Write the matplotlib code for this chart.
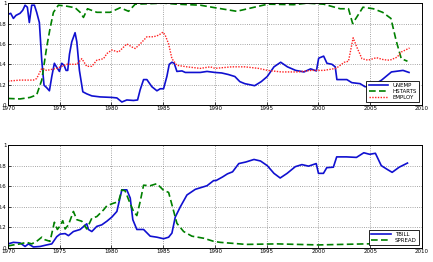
import matplotlib
matplotlib.use("Agg")
import matplotlib.pyplot as plt

# Top panel series (normalised)
unemp_years = [1970.0, 1970.26, 1970.52, 1970.77, 1971.16, 1971.42, 1971.65, 1971.87, 1972.06, 1972.29,
               1972.55, 1972.77, 1973.03, 1973.26, 1973.48, 1973.74, 1974.0, 1974.23, 1974.48, 1974.71,
               1974.97, 1975.19, 1975.42, 1975.61, 1975.77, 1975.94, 1976.16, 1976.48, 1976.65, 1976.9,
               1977.23, 1977.61, 1978.1, 1978.9, 1980.03, 1980.52, 1981.0, 1981.48, 1982.13, 1982.52,
               1982.77, 1983.1, 1983.42, 1983.9, 1984.39, 1984.71, 1985.03, 1985.35, 1985.58, 1985.84,
               1986.06, 1986.32, 1986.81, 1987.13, 1988.58, 1989.23, 1990.0, 1990.64, 1991.28, 1991.92,
               1992.4, 1992.88, 1993.83, 1994.47, 1995.05, 1995.7, 1996.35, 1997.0, 1997.8, 1998.6,
               1999.24, 1999.8, 2000.02, 2000.5, 2000.82, 2001.3, 2001.62, 2001.78, 2002.74, 2003.22,
               2004.02, 2004.5, 2005.14, 2006.1, 2007.05, 2008.17, 2008.75]
unemp = [0.89, 0.90, 0.85, 0.88, 0.90, 0.93, 0.98, 0.96, 0.81, 0.98,
         0.98, 0.91, 0.81, 0.44, 0.195, 0.17, 0.14, 0.28, 0.41, 0.37,
         0.33, 0.41, 0.39, 0.34, 0.34, 0.50, 0.62, 0.71, 0.62, 0.34,
         0.13, 0.11, 0.09, 0.08, 0.075, 0.07, 0.03, 0.05, 0.045, 0.05,
         0.15, 0.25, 0.25, 0.18, 0.14, 0.16, 0.16, 0.28, 0.40, 0.42,
         0.41, 0.33, 0.335, 0.32, 0.32, 0.33, 0.32, 0.315, 0.30, 0.28,
         0.23, 0.21, 0.19, 0.23, 0.28, 0.375, 0.42, 0.375, 0.34, 0.325,
         0.355, 0.335, 0.46, 0.48, 0.41, 0.40, 0.375, 0.25, 0.25, 0.22,
         0.21, 0.18, 0.185, 0.245, 0.325, 0.34, 0.32]

hstarts_years = [1970.0, 1971.16, 1972.13, 1972.77, 1973.26, 1973.74, 1974.06, 1974.39, 1974.87, 1975.68,
                 1976.48, 1976.97, 1977.29, 1977.68, 1978.58, 1979.87, 1980.84, 1981.65, 1982.29, 1983.74,
                 1985.03, 1986.32, 1988.58, 1990.0, 1992.1, 1993.8, 1995.1, 1997.6, 1998.9, 2000.5,
                 2002.1, 2002.9, 2003.3, 2003.9, 2004.3, 2005.3, 2006.2, 2007.0, 2007.5, 2008.0, 2008.6]
hstarts = [0.065, 0.06, 0.075, 0.10, 0.245, 0.57, 0.75, 0.91, 0.98, 0.97,
           0.955, 0.91, 0.86, 0.945, 0.91, 0.91, 0.955, 0.92, 0.99, 0.995,
           1.0, 0.99, 0.98, 0.955, 0.92, 0.96, 0.99, 0.985, 1.0, 0.99,
           0.945, 0.945, 0.80, 0.895, 0.96, 0.945, 0.91, 0.85, 0.635, 0.455, 0.43]

employ_years = [1970.0, 1971.16, 1972.45, 1972.77, 1973.26, 1973.74, 1974.71, 1975.68, 1976.65, 1977.13,
                1977.61, 1978.1, 1978.58, 1979.23, 1979.55, 1980.03, 1980.68, 1981.48, 1981.97, 1982.29,
                1982.77, 1983.42, 1984.06, 1984.55, 1984.97, 1985.19, 1985.52, 1985.84, 1986.32, 1987.29,
                1988.58, 1989.55, 1990.0, 1991.6, 1992.9, 1994.2, 1995.1, 1996.4, 1998.0, 1999.3,
                2000.5, 2001.7, 2002.5, 2002.9, 2003.35, 2003.7, 2004.2, 2004.8, 2005.6, 2006.3,
                2006.9, 2007.6, 2008.0, 2008.8]
employ = [0.235, 0.245, 0.245, 0.26, 0.36, 0.34, 0.36, 0.40, 0.40, 0.455,
          0.38, 0.38, 0.44, 0.455, 0.505, 0.54, 0.52, 0.60, 0.57, 0.555,
          0.60, 0.67, 0.67, 0.685, 0.715, 0.685, 0.60, 0.455, 0.39, 0.375,
          0.36, 0.375, 0.36, 0.375, 0.375, 0.36, 0.34, 0.325, 0.325, 0.34,
          0.34, 0.36, 0.42, 0.43, 0.66, 0.57, 0.455, 0.44, 0.465, 0.445,
          0.44, 0.47, 0.52, 0.56]

# Bottom panel series
tbill_years = [1970.0, 1970.52, 1971.16, 1971.65, 1971.97, 1972.45, 1973.1, 1973.74, 1974.23, 1974.71,
               1975.03, 1975.52, 1975.84, 1976.32, 1976.97, 1977.61, 1977.77, 1978.1, 1978.58, 1979.06,
               1979.55, 1980.03, 1980.52, 1981.0, 1981.48, 1981.81, 1982.06, 1982.45, 1983.1, 1983.74,
               1984.39, 1985.03, 1985.52, 1985.84, 1986.16, 1986.65, 1987.29, 1988.1, 1989.23, 1989.87,
               1990.1, 1990.73, 1991.2, 1991.7, 1992.3, 1992.97, 1993.77, 1994.4, 1995.05, 1995.7,
               1996.3, 1996.97, 1997.76, 1998.4, 1999.04, 1999.78, 2000.0, 2000.48, 2000.8, 2001.44,
               2001.76, 2002.7, 2003.67, 2004.38, 2004.95, 2005.5, 2006.07, 2006.7, 2007.12, 2007.8, 2008.6]
tbill = [0.04, 0.055, 0.05, 0.015, 0.04, 0.01, 0.015, 0.03, 0.04, 0.11,
         0.135, 0.14, 0.12, 0.16, 0.18, 0.235, 0.18, 0.16, 0.21, 0.225,
         0.26, 0.30, 0.355, 0.565, 0.565, 0.485, 0.275, 0.18, 0.18, 0.115,
         0.105, 0.09, 0.105, 0.145, 0.30, 0.40, 0.515, 0.57, 0.605, 0.655,
         0.655, 0.69, 0.72, 0.74, 0.82, 0.835, 0.86, 0.845, 0.80, 0.725,
         0.68, 0.725, 0.79, 0.81, 0.795, 0.82, 0.725, 0.725, 0.78, 0.785,
         0.885, 0.885, 0.88, 0.925, 0.91, 0.92, 0.80, 0.76, 0.735, 0.785, 0.825]

spread_years = [1970.0, 1970.52, 1971.16, 1971.8, 1972.29, 1972.77, 1973.26, 1973.58, 1974.06, 1974.48,
                1974.77, 1975.03, 1975.29, 1975.52, 1975.84, 1976.32, 1976.65, 1977.13, 1977.61, 1978.1,
                1978.58, 1979.23, 1979.55, 1980.19, 1980.68, 1981.0, 1981.32, 1981.65, 1982.13, 1982.45,
                1982.77, 1983.1, 1983.74, 1984.39, 1985.03, 1985.52, 1985.84, 1986.32, 1986.97, 1987.77,
                1988.9, 1989.87, 1990.5, 1993.0, 1996.0, 2000.0, 2004.5, 2008.8]
spread = [0.02, 0.03, 0.04, 0.055, 0.04, 0.065, 0.105, 0.08, 0.065, 0.25,
          0.18, 0.215, 0.265, 0.185, 0.225, 0.355, 0.275, 0.26, 0.185, 0.29,
          0.305, 0.37, 0.41, 0.435, 0.45, 0.565, 0.555, 0.47, 0.355, 0.315,
          0.45, 0.61, 0.605, 0.625, 0.56, 0.54, 0.42, 0.24, 0.16, 0.115,
          0.095, 0.065, 0.055, 0.035, 0.04, 0.03, 0.04, 0.045]

x_ticks = [1970, 1975, 1980, 1985, 1990, 1995, 2000, 2005, 2010]
y_ticks = [0, 0.2, 0.4, 0.6, 0.8, 1]
y_labels = ["0", "0.2", "0.4", "0.6", "0.8", "1"]

blue = "#1010d0"
green = "#008000"
red = "#ff2020"

fig = plt.figure(figsize=(4.33, 2.62), dpi=100)
ax1 = fig.add_axes([0.0185, 0.599, 0.956, 0.389])
ax2 = fig.add_axes([0.0185, 0.0534, 0.956, 0.393])

ax1.plot(unemp_years, unemp, color=blue, lw=1.2, label="UNEMP")
ax1.plot(hstarts_years, hstarts, color=green, lw=1.2, ls=(0, (4, 2)), label="HSTARTS")
ax1.plot(employ_years, employ, color=red, lw=1.0, ls=(0, (1, 1)), label="EMPLOY")

ax2.plot(tbill_years, tbill, color=blue, lw=1.2, label="TBILL")
ax2.plot(spread_years, spread, color=green, lw=1.2, ls=(0, (4, 2)), label="SPREAD")

for ax in (ax1, ax2):
    ax.set_xlim(1970, 2010)
    ax.set_ylim(0, 1)
    ax.set_xticks(x_ticks)
    ax.set_yticks(y_ticks)
    ax.set_yticklabels(y_labels)
    ax.tick_params(labelsize=4, length=2, width=0.5, pad=1, direction="in")
    ax.grid(True, ls=":", color="#888888", lw=0.6)
    for s in ax.spines.values():
        s.set_linewidth(0.7)
    leg = ax.legend(loc="lower right", fontsize=4, handlelength=3.5, borderpad=0.4,
                    labelspacing=0.2, fancybox=False, framealpha=1, edgecolor="black")
    leg.get_frame().set_linewidth(0.6)

fig.savefig("out.png", dpi=100)
